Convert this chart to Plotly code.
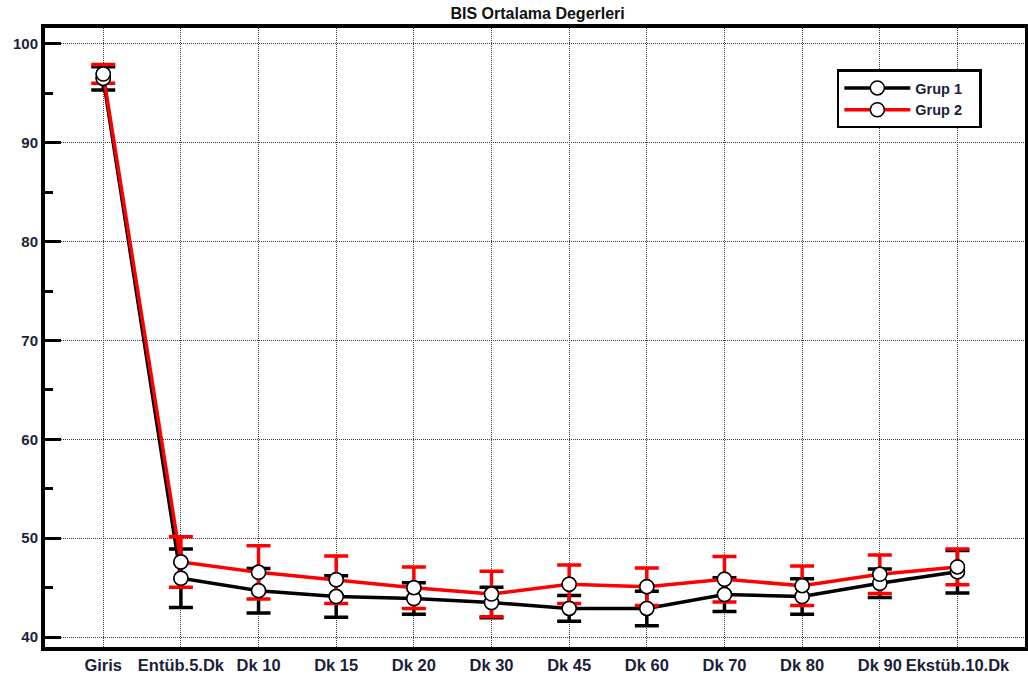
import plotly.graph_objects as go

# Time points of the BIS measurements
categories = ["Giris", "Entüb.5.Dk", "Dk 10", "Dk 15", "Dk 20", "Dk 30",
              "Dk 45", "Dk 60", "Dk 70", "Dk 80", "Dk 90", "Ekstüb.10.Dk"]

# Group means and error-bar half widths
grup1_mean = [96.5, 45.95, 44.7, 44.1, 43.9, 43.5, 42.9, 42.9, 44.3, 44.1, 45.45, 46.6]
grup1_err = [1.17, 2.95, 2.25, 2.1, 1.6, 1.55, 1.3, 1.74, 1.7, 1.8, 1.45, 2.15]
grup2_mean = [96.95, 47.6, 46.55, 45.8, 45.0, 44.35, 45.35, 45.1, 45.85, 45.2, 46.35, 47.1]
grup2_err = [0.95, 2.55, 2.7, 2.4, 2.1, 2.3, 1.95, 1.9, 2.3, 2.0, 1.95, 1.8]

y_ticks = [40, 50, 60, 70, 80, 90, 100]

FONT = "Liberation Sans, Arial, sans-serif"
TICK_COLOR = "#1b1f3a"
GRID = dict(showgrid=True, gridcolor="#3a3a3a", griddash="1px,1px", gridwidth=1)

x = list(range(len(categories)))
fig = go.Figure()

marker_style = dict(symbol="circle", size=14, color="white",
                    line=dict(color="black", width=1.5))

for name, mean, err, color in [("Grup 1", grup1_mean, grup1_err, "black"),
                               ("Grup 2", grup2_mean, grup2_err, "#ff0000")]:
    fig.add_trace(go.Scatter(
        x=x, y=mean, name=f"<b>{name}</b>\u00a0\u00a0\u00a0", mode="lines+markers",
        line=dict(color=color, width=3.5),
        marker=marker_style,
        error_y=dict(type="data", array=err, visible=True,
                     color=color, thickness=3.5, width=12),
    ))

# White circle markers drawn above both lines
for mean in (grup1_mean, grup2_mean):
    fig.add_trace(go.Scatter(x=x, y=mean, mode="markers", marker=marker_style,
                             showlegend=False, hoverinfo="skip"))

fig.update_layout(
    width=1028, height=681,
    margin=dict(l=45, r=3, t=28, b=34),
    paper_bgcolor="white", plot_bgcolor="white",
    title=dict(text="<b>BIS Ortalama Degerleri</b>", x=0.523, xanchor="center",
               y=0.981, yanchor="middle",
               font=dict(family=FONT, size=16, color="#111111")),
    showlegend=True,
    legend=dict(x=0.808, y=0.933, xanchor="left", yanchor="top",
                bgcolor="white", bordercolor="black", borderwidth=2.5,
                font=dict(family=FONT, size=14.5, color=TICK_COLOR),
                itemwidth=66, tracegroupgap=0),
    font=dict(family=FONT),
)

fig.update_xaxes(
    range=[-0.75, 11.87], tickmode="array", tickvals=x,
    ticktext=[f"<b>{c}</b>" for c in categories],
    tickfont=dict(family=FONT, size=16.5, color=TICK_COLOR),
    tickangle=0, automargin=False,
    showline=True, linecolor="black", linewidth=4, mirror=True,
    ticks="", zeroline=False, **GRID,
)

fig.update_yaxes(
    range=[39.0, 101.6], tickmode="array", tickvals=y_ticks,
    ticktext=[f"<b>{v}</b>" for v in y_ticks],
    tickfont=dict(family=FONT, size=15, color=TICK_COLOR),
    automargin=False,
    showline=True, linecolor="black", linewidth=4, mirror=True,
    ticks="inside", ticklen=16, tickwidth=3, tickcolor="black",
    minor=dict(tickvals=[45, 55, 65, 75, 85, 95], ticks="inside",
               ticklen=8, tickwidth=3, tickcolor="black", showgrid=False),
    zeroline=False, **GRID,
)

fig.write_html("out.html")
